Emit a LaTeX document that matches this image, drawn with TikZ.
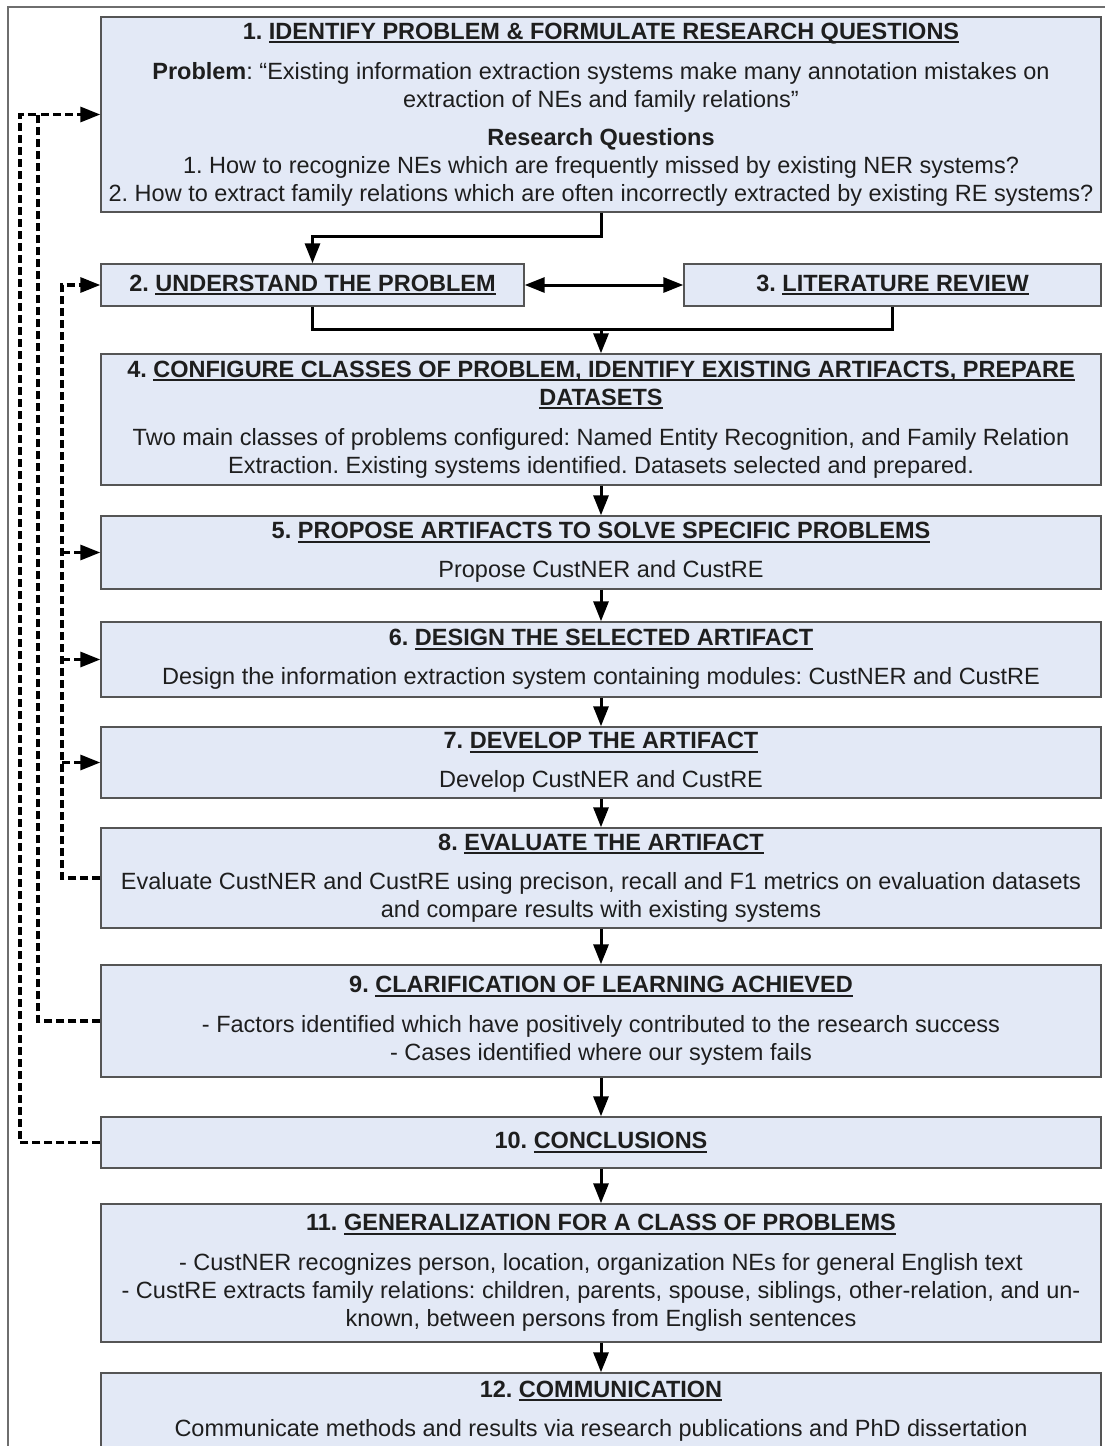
\documentclass[tikz,border=0pt]{standalone}
\usepackage{fontspec}
\setmainfont{Liberation Sans}
\usetikzlibrary{arrows.meta}
\frenchspacing

\definecolor{boxfill}{RGB}{227,233,246}
\definecolor{boxline}{RGB}{85,85,85}
\definecolor{framegray}{RGB}{110,110,110}
\definecolor{bodytext}{RGB}{30,30,30}

% underline drawn as a rule of fixed thickness below the baseline
\newsavebox\ulinebox
\newcommand\myul[1]{\sbox\ulinebox{#1}\rlap{\rule[-4pt]{\wd\ulinebox}{2pt}}\usebox\ulinebox}

\tikzset{
  stage/.style={draw=boxline, fill=boxfill, line width=1.4pt, inner sep=0pt,
    align=center, text=bodytext, font=\fontsize{23.5}{28}\selectfont},
  wide/.style={minimum width=1000pt},
  flow/.style={line width=3pt, -{Triangle[length=20pt,width=15pt]}},
  link/.style={line width=3pt},
  feedback/.style={line width=3.2pt, dash pattern=on 8pt off 4pt},
  feedbackin/.style={feedback, -{Triangle[length=20pt,width=15pt]}},
}

\begin{document}
\begin{tikzpicture}[x=1pt, y=-1pt]
\useasboundingbox (0,0) rectangle (1105,1446);
\clip (0,0) rectangle (1105,1446);

% outer frame
\draw[framegray, line width=1.2pt] (8,7) rectangle (1130,1470);

% process stages
\node[stage, wide, minimum height=195pt] (s1) at (601,114.5) {%
  \textbf{1. \myul{IDENTIFY PROBLEM \& FORMULATE RESEARCH QUESTIONS}}\\[12pt]
  \textbf{Problem}: “Existing information extraction systems make many annotation mistakes on\\
  extraction of NEs and family relations”\\[10pt]
  \textbf{Research Questions}\\
  1. How to recognize NEs which are frequently missed by existing NER systems?\\
  2. How to extract family relations which are often incorrectly extracted by existing RE systems?};

\node[stage, minimum width=423pt, minimum height=42pt] (s2) at (312.5,285)
  {\textbf{2. \myul{UNDERSTAND THE PROBLEM}}};
\node[stage, minimum width=417pt, minimum height=42pt] (s3) at (892.5,285)
  {\textbf{3. \myul{LITERATURE REVIEW}}};

\node[stage, wide, minimum height=131pt] (s4) at (601,419.5) {%
  \textbf{4. \myul{CONFIGURE CLASSES OF PROBLEM, IDENTIFY EXISTING ARTIFACTS, PREPARE}}\\
  \textbf{\myul{DATASETS}}\\[12pt]
  Two main classes of problems configured: Named Entity Recognition, and Family Relation\\
  Extraction. Existing systems identified. Datasets selected and prepared.};

\node[stage, wide, minimum height=73pt] (s5) at (601,552.5) {%
  \textbf{5. \myul{PROPOSE ARTIFACTS TO SOLVE SPECIFIC PROBLEMS}}\\[11pt]
  Propose CustNER and CustRE};

\node[stage, wide, minimum height=75pt] (s6) at (601,659.5) {%
  \textbf{6. \myul{DESIGN THE SELECTED ARTIFACT}}\\[11pt]
  Design the information extraction system containing modules: CustNER and CustRE};

\node[stage, wide, minimum height=71pt] (s7) at (601,762.5) {%
  \textbf{7. \myul{DEVELOP THE ARTIFACT}}\\[11pt]
  Develop CustNER and CustRE};

\node[stage, wide, minimum height=100pt] (s8) at (601,878) {%
  \textbf{8. \myul{EVALUATE THE ARTIFACT}}\\[11pt]
  Evaluate CustNER and CustRE using precison, recall and F1 metrics on evaluation datasets\\
  and compare results with existing systems};

\node[stage, wide, minimum height=112pt] (s9) at (601,1021) {%
  \textbf{9. \myul{CLARIFICATION OF LEARNING ACHIEVED}}\\[12pt]
  - Factors identified which have positively contributed to the research success\\
  - Cases identified where our system fails};

\node[stage, wide, minimum height=51pt] (s10) at (601,1142.5)
  {\textbf{10. \myul{CONCLUSIONS}}};

\node[stage, wide, minimum height=138pt] (s11) at (601,1273) {%
  \textbf{11. \myul{GENERALIZATION FOR A CLASS OF PROBLEMS}}\\[12pt]
  - CustNER recognizes person, location, organization NEs for general English text\\
  - CustRE extracts family relations: children, parents, spouse, siblings, other-relation, and un-\\
  known, between persons from English sentences};

\node[stage, wide, minimum height=76pt] (s12) at (601,1411) {%
  \textbf{12. \myul{COMMUNICATION}}\\[11pt]
  Communicate methods and results via research publications and PhD dissertation};

% main flow
\coordinate (merge) at (601,329);
\draw[flow] (s1.south) -- ++(0,24) -| (s2.north);
\draw[flow, {Triangle[length=20pt,width=15pt]}-{Triangle[length=20pt,width=15pt]}] (s2.east) -- (s3.west);
\draw[link] (s2.south) |- (merge) -| (s3.south);
\draw[flow] (merge) -- (s4.north);
\foreach \a/\b in {s4/s5, s5/s6, s6/s7, s7/s8, s8/s9, s9/s10, s10/s11, s11/s12}
  \draw[flow] (\a.south) -- (\b.north);

% feedback loops
\coordinate (bus8) at (62,0);
\coordinate (bus9) at (38,0);
\coordinate (bus10) at (20,0);
\draw[feedbackin] (s8.west) -| (bus8 |- s2.west) -- (s2.west);
\foreach \t in {s5, s6, s7}
  \draw[feedbackin] (bus8 |- \t.west) -- (\t.west);
\draw[feedbackin] (s9.west) -| (bus9 |- s1.west) -- (s1.west);
\draw[feedback] (s10.west) -| (bus10 |- s1.west) -- (bus9 |- s1.west);
\end{tikzpicture}
\end{document}
